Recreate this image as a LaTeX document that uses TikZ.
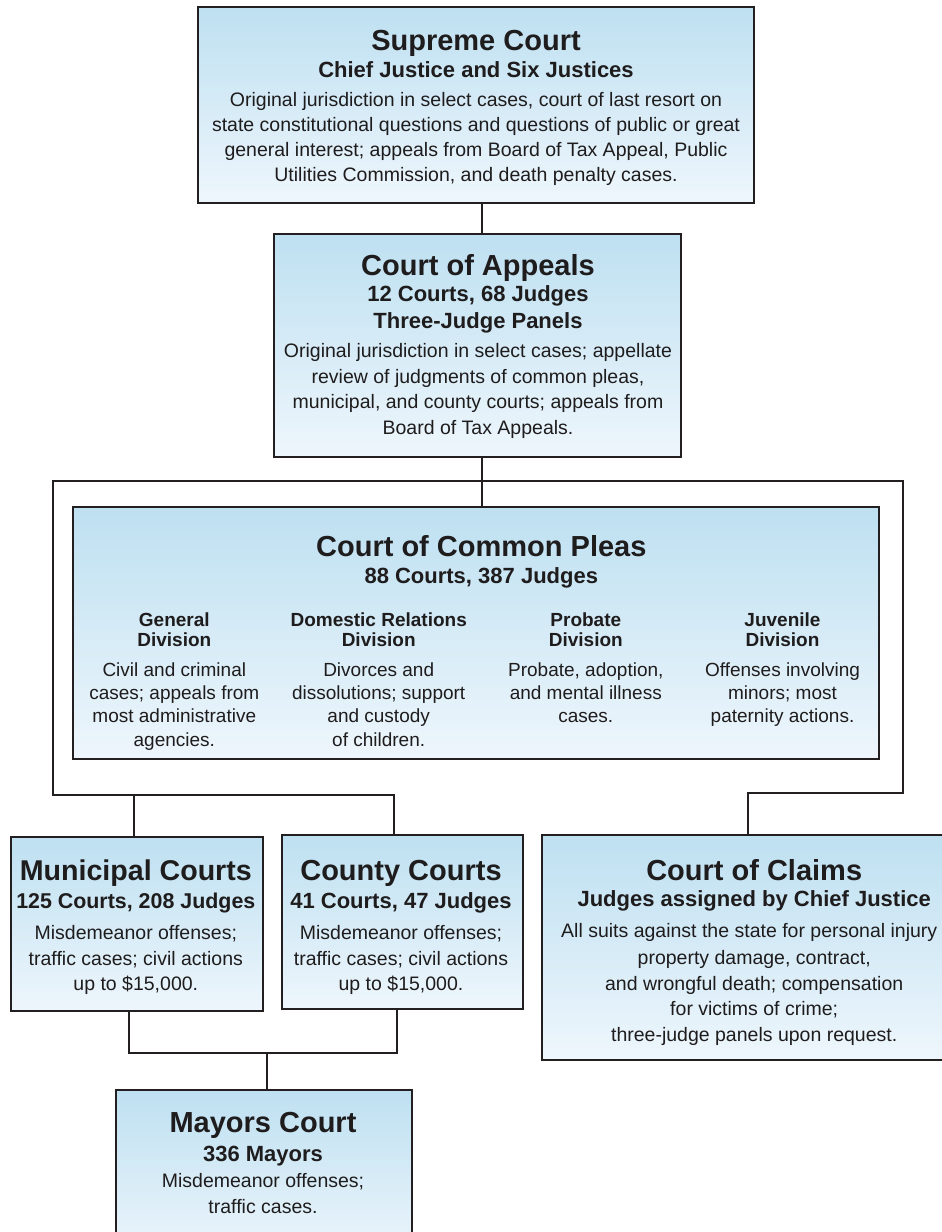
\documentclass[tikz,border=0pt]{standalone}
\usepackage{fontspec}
\setmainfont{Liberation Sans}
\definecolor{linec}{RGB}{35,31,32}
\definecolor{txtc}{RGB}{30,28,29}
\definecolor{btop}{RGB}{190,224,241}
\definecolor{bbot}{RGB}{238,246,252}
\begin{document}
\begin{tikzpicture}[x=1pt,y=-1pt,
  court/.style={draw=linec, line width=2pt, top color=btop, bottom color=bbot,
    rectangle, inner sep=0pt, outer sep=0pt, anchor=north west},
  conn/.style={draw=linec, line width=2pt},
  ttl/.style={anchor=base, inner sep=0pt, text=txtc, font=\fontsize{29}{34}\selectfont\bfseries},
  sub/.style={anchor=base, inner sep=0pt, text=txtc, font=\fontsize{22}{26}\selectfont\bfseries},
  bdy/.style={anchor=base, inner sep=0pt, text=txtc, font=\fontsize{19.5}{24}\selectfont},
  hd/.style={anchor=base, inner sep=0pt, text=txtc, font=\fontsize{19}{23}\selectfont\bfseries},
  dv/.style={anchor=base, inner sep=0pt, text=txtc, font=\fontsize{19}{23}\selectfont},
]
\useasboundingbox (0,0) rectangle (942,1232);
\clip (0,0) rectangle (942,1232);

% ---------- boxes ----------
\node[court, minimum width=556pt, minimum height=195.5pt] (sup) at (198,7) {};
\node[court, minimum width=406.7pt, minimum height=223.3pt] (app) at (274,234) {};
\node[court, minimum width=806pt, minimum height=252pt] (cp) at (73.3,507.3) {};
\node[court, minimum width=252.4pt, minimum height=174.3pt] (mun) at (11,836.7) {};
\node[court, minimum width=241pt, minimum height=173.7pt] (cty) at (281.7,835) {};
\node[court, minimum width=425pt, minimum height=225pt] (clm) at (541.7,835) {};
\node[court, minimum width=296.3pt, minimum height=170pt] (may) at (116,1090) {};

% ---------- connectors ----------
\coordinate (jx) at (481.7,470);
\coordinate (ctyin) at (394.3,795);
\coordinate (fl) at (53,795);
\coordinate (ft) at (53,480.7);
\coordinate (fr) at (903.3,480.7);
\coordinate (frb) at (903.3,793.3);
\coordinate (clmin) at (747.7,793.3);
\coordinate (munin) at (134.3,795);
\coordinate (munout) at (129,1052.7);
\coordinate (ctyout) at (396.5,1052.7);
\coordinate (mayin) at (266.7,1052.7);

\draw[conn] (sup.south -| jx) -- (app.north -| jx);
\draw[conn] (app.south -| jx) -- (cp.north -| jx);
\draw[conn] (cty.north -| ctyin) -- (ctyin) -- (fl) -- (ft) -- (fr) -- (frb) -- (clmin) -- (clm.north -| clmin);
\draw[conn] (munin) -- (mun.north -| munin);
\draw[conn] (mun.south -| munout) -- (munout) -- (ctyout) -- (cty.south -| ctyout);
\draw[conn] (mayin) -- (may.north -| mayin);

% ---------- Supreme Court ----------
\node[ttl] (supT) at (476,50) {Supreme Court};
\node[sub] (supS) at (476,77.3) {Chief Justice and Six Justices};
\node[bdy] (supB1) at (476,106) {Original jurisdiction in select cases, court of last resort on};
\node[bdy] (supB2) at (476,131) {state constitutional questions and questions of public or great};
\node[bdy] (supB3) at (476,156.3) {general interest; appeals from Board of Tax Appeal, Public};
\node[bdy] (supB4) at (476,181.7) {Utilities Commission, and death penalty cases.};

% ---------- Court of Appeals ----------
\node[ttl] (appT) at (478,275) {Court of Appeals};
\node[sub] (appS1) at (478,301.7) {12 Courts, 68 Judges};
\node[sub] (appS2) at (478,328.3) {Three-Judge Panels};
\node[bdy] (appB1) at (478,357.3) {Original jurisdiction in select cases; appellate};
\node[bdy] (appB2) at (478,383.3) {review of judgments of common pleas,};
\node[bdy] (appB3) at (478,408.3) {municipal, and county courts; appeals from};
\node[bdy] (appB4) at (478,434) {Board of Tax Appeals.};

% ---------- Court of Common Pleas ----------
\node[ttl] (cpT) at (481.3,556.7) {Court of Common Pleas};
\node[sub] (cpS) at (481.3,583) {88 Courts, 387 Judges};

\node[hd] (genH1) at (174.3,626.7) {General};
\node[hd] (genH2) at (174.3,646.7) {Division};
\node[dv] (genB1) at (174.3,676) {Civil and criminal};
\node[dv] (genB2) at (174.3,699.3) {cases; appeals from};
\node[dv] (genB3) at (174.3,722.7) {most administrative};
\node[dv] (genB4) at (174.3,746) {agencies.};

\node[hd] (domH1) at (378.7,626.7) {Domestic Relations};
\node[hd] (domH2) at (378.7,646.7) {Division};
\node[dv] (domB1) at (378.7,676) {Divorces and};
\node[dv] (domB2) at (378.7,699.3) {dissolutions; support};
\node[dv] (domB3) at (378.7,722.7) {and custody};
\node[dv] (domB4) at (378.7,746) {of children.};

\node[hd] (proH1) at (585.8,626.7) {Probate};
\node[hd] (proH2) at (585.8,646.7) {Division};
\node[dv] (proB1) at (585.8,676) {Probate, adoption,};
\node[dv] (proB2) at (585.8,699.3) {and mental illness};
\node[dv] (proB3) at (585.8,722.7) {cases.};

\node[hd] (juvH1) at (782.5,626.7) {Juvenile};
\node[hd] (juvH2) at (782.5,646.7) {Division};
\node[dv] (juvB1) at (782.5,676) {Offenses involving};
\node[dv] (juvB2) at (782.5,699.3) {minors; most};
\node[dv] (juvB3) at (782.5,722.7) {paternity actions.};

% ---------- Municipal Courts ----------
\node[ttl, font=\fontsize{28.6}{34}\selectfont\bfseries] (munT) at (135.8,880) {Municipal Courts};
\node[sub, font=\fontsize{21.4}{26}\selectfont\bfseries] (munS) at (135.8,908.3) {125 Courts, 208 Judges};
\node[bdy] (munB1) at (135.8,939.3) {Misdemeanor offenses;};
\node[bdy] (munB2) at (135.8,965) {traffic cases; civil actions};
\node[bdy] (munB3) at (135.8,990.7) {up to \$15,000.};

% ---------- County Courts ----------
\node[ttl] (ctyT) at (401,880) {County Courts};
\node[sub] (ctyS) at (401,908.3) {41 Courts, 47 Judges};
\node[bdy] (ctyB1) at (401,939.3) {Misdemeanor offenses;};
\node[bdy] (ctyB2) at (401,965) {traffic cases; civil actions};
\node[bdy] (ctyB3) at (401,990.7) {up to \$15,000.};

% ---------- Court of Claims ----------
\node[ttl] (clmT) at (754.2,880) {Court of Claims};
\node[sub] (clmS) at (754.2,906.7) {Judges assigned by Chief Justice};
\node[bdy, anchor=base west] (clmB1) at (561,937.7) {All suits against the state for personal injury};
\node[bdy] (clmB2) at (754.2,964) {property damage, contract,};
\node[bdy] (clmB3) at (754.2,990) {and wrongful death; compensation};
\node[bdy] (clmB4) at (754.2,1015.7) {for victims of crime;};
\node[bdy] (clmB5) at (754.2,1041.7) {three-judge panels upon request.};

% ---------- Mayors Court ----------
\node[ttl] (mayT) at (263,1132.7) {Mayors Court};
\node[sub] (mayS) at (263,1161) {336 Mayors};
\node[bdy] (mayB1) at (263,1187.7) {Misdemeanor offenses;};
\node[bdy] (mayB2) at (263,1213.3) {traffic cases.};
\end{tikzpicture}
\end{document}
